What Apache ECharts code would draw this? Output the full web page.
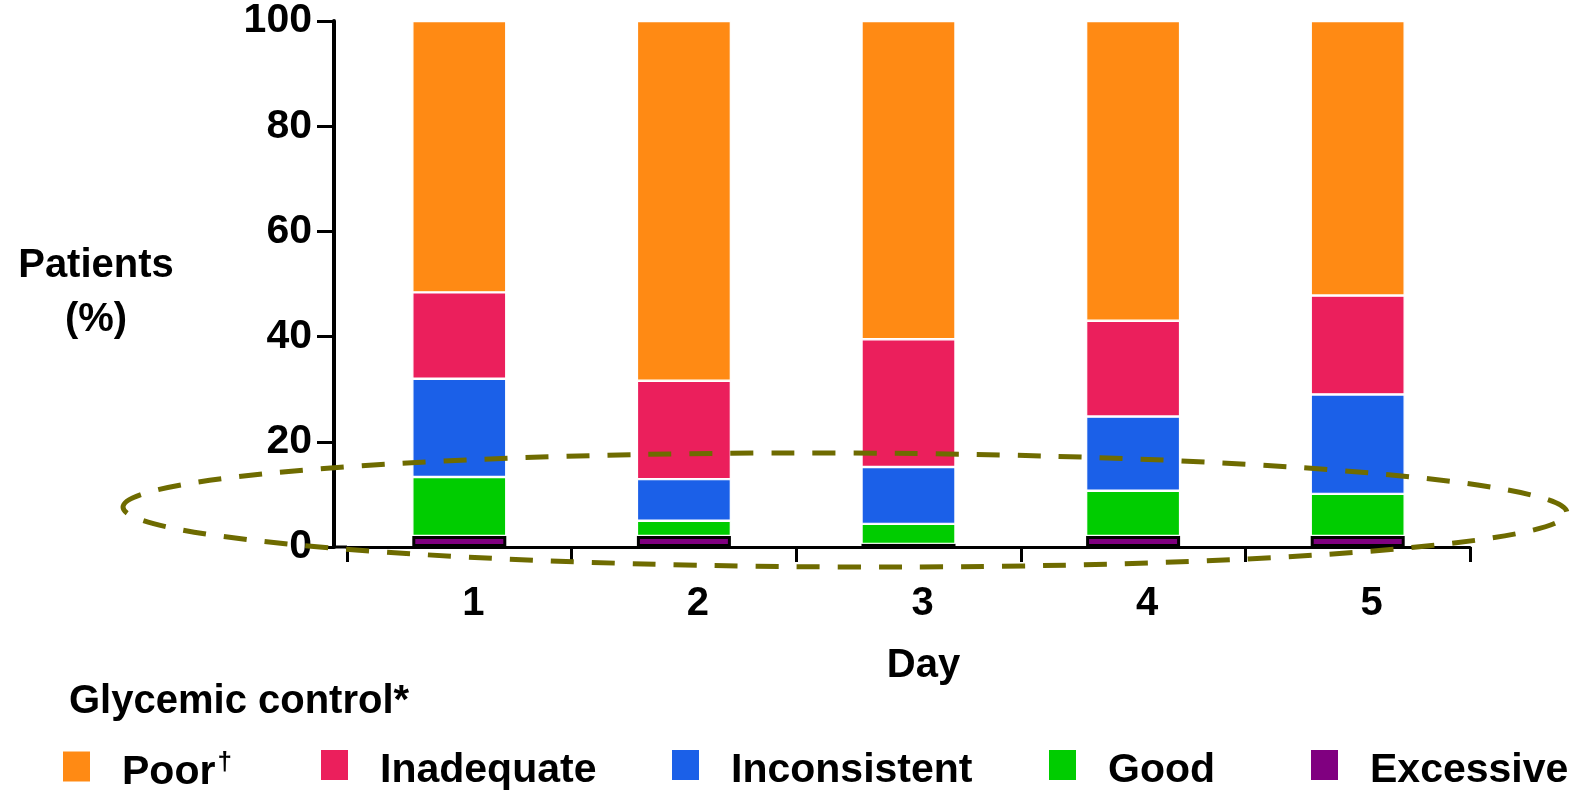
<!DOCTYPE html>
<html>
<head>
<meta charset="utf-8">
<script src="https://cdn.jsdelivr.net/npm/echarts@6/dist/echarts.min.js"></script>
<style>
html,body{margin:0;padding:0;background:#fff;}
#c{width:1581px;height:791px;}
</style>
</head>
<body>
<div id="c"></div>
<script>
// ---- data ----
var days = ['1', '2', '3', '4', '5'];
var yTicks = [0, 20, 40, 60, 80, 100];
var poor = [51.6, 68.4, 60.5, 57.0, 52.2];
var inadequate = [16.4, 18.7, 24.3, 18.2, 18.8];
var inconsistent = [18.7, 7.9, 10.8, 14.1, 18.9];
var good = [11.2, 2.9, 3.8, 8.6, 8.0];
var excessive = [2.1, 2.1, 0.6, 2.1, 2.1];

var FONT = '"Liberation Sans", Arial, sans-serif';
var colors = {
  Poor: '#FF8A14',
  Inadequate: '#EB1F5C',
  Inconsistent: '#1B60E8',
  Good: '#00CC00',
  Excessive: '#800080'
};

var chart = echarts.init(document.getElementById('c'));

function seg(name, data, border) {
  return {
    name: name,
    type: 'bar',
    stack: 'total',
    data: data,
    barWidth: 94,
    itemStyle: {
      color: colors[name],
      borderColor: border ? '#000' : '#fff',
      borderWidth: border ? 3 : 1.2
    },
    emphasis: { disabled: true }
  };
}

function legendFor(name, left) {
  return {
    data: [name],
    left: left,
    top: 750,
    padding: 0,
    itemWidth: 27,
    itemHeight: 30,
    icon: 'rect',
    selectedMode: false,
    itemStyle: { borderWidth: 0 },
    formatter: function (n) { return n === 'Poor' ? '{n|Poor}{s|†}' : '{n|' + n + '}'; },
    textStyle: {
      color: '#000',
      fontFamily: FONT,
      fontWeight: 'bold',
      fontSize: 41,
      padding: [0, 0, 0, 27],
      rich: {
        n: { fontFamily: FONT, fontWeight: 'bold', fontSize: 41, color: '#000', padding: [12, 0, 0, 0] },
        s: { fontFamily: FONT, fontWeight: 'bold', fontSize: 26, color: '#000', verticalAlign: 'top', padding: [10, 0, 0, 2] }
      }
    }
  };
}

var option = {
  animation: false,
  backgroundColor: '#fff',
  title: {
    text: 'Glycemic control*',
    left: 69,
    top: 682,
    padding: 0,
    textStyle: { fontFamily: FONT, fontWeight: 'bold', fontSize: 40, color: '#000' }
  },
  legend: [
    legendFor('Poor', 63),
    legendFor('Inadequate', 321),
    legendFor('Inconsistent', 672),
    legendFor('Good', 1049),
    legendFor('Excessive', 1311)
  ],
  grid: { left: 347, right: 111, top: 21, bottom: 244, containLabel: false },
  xAxis: {
    type: 'category',
    data: days,
    name: 'Day',
    nameLocation: 'middle',
    nameGap: 99,
    nameTextStyle: { fontFamily: FONT, fontWeight: 'bold', fontSize: 40, color: '#000', padding: [0, 0, 0, 30] },
    axisLine: { lineStyle: { color: '#000', width: 3 } },
    axisTick: { show: true, inside: false, length: 15, lineStyle: { color: '#000', width: 3 } },
    axisLabel: { margin: 37, color: '#000', fontFamily: FONT, fontWeight: 'bold', fontSize: 40, padding: [0, 0, 0, 28] },
    splitLine: { show: false }
  },
  yAxis: {
    type: 'value',
    min: yTicks[0],
    max: yTicks[yTicks.length - 1],
    interval: yTicks[1] - yTicks[0],
    offset: 13,
    axisLine: { show: true, lineStyle: { color: '#000', width: 4 } },
    axisTick: { show: true, inside: false, length: 17, lineStyle: { color: '#000', width: 3 } },
    axisLabel: { margin: 22, color: '#000', fontFamily: FONT, fontWeight: 'bold', fontSize: 41 },
    splitLine: { show: false }
  },
  series: [
    seg('Excessive', excessive, true),
    seg('Good', good),
    seg('Inconsistent', inconsistent),
    seg('Inadequate', inadequate),
    seg('Poor', poor)
  ]
};
chart.setOption(option);

// y-axis title, x-axis connector and dashed ellipse annotation
var origin = chart.convertToPixel({ gridIndex: 0 }, [0, 0]);
var gridLeft = 347;
chart.setOption({
  graphic: [
    {
      type: 'text',
      x: 96, y: 293,
      style: {
        text: 'Patients\n(%)',
        align: 'center', verticalAlign: 'middle',
        fontFamily: FONT, fontWeight: 'bold', fontSize: 40, lineHeight: 54, fill: '#000'
      }
    },
    {
      type: 'line',
      z: 5,
      shape: { x1: gridLeft - 13, y1: origin[1], x2: gridLeft, y2: origin[1] },
      style: { stroke: '#000', lineWidth: 3 }
    },
    {
      type: 'ellipse',
      z: 100,
      x: 845, y: 510, rotation: -0.004,
      shape: { cx: 0, cy: 0, rx: 722, ry: 57 },
      style: { fill: null, stroke: '#6E6B00', lineWidth: 5, lineDash: [23, 18] }
    }
  ]
});
</script>
</body>
</html>
